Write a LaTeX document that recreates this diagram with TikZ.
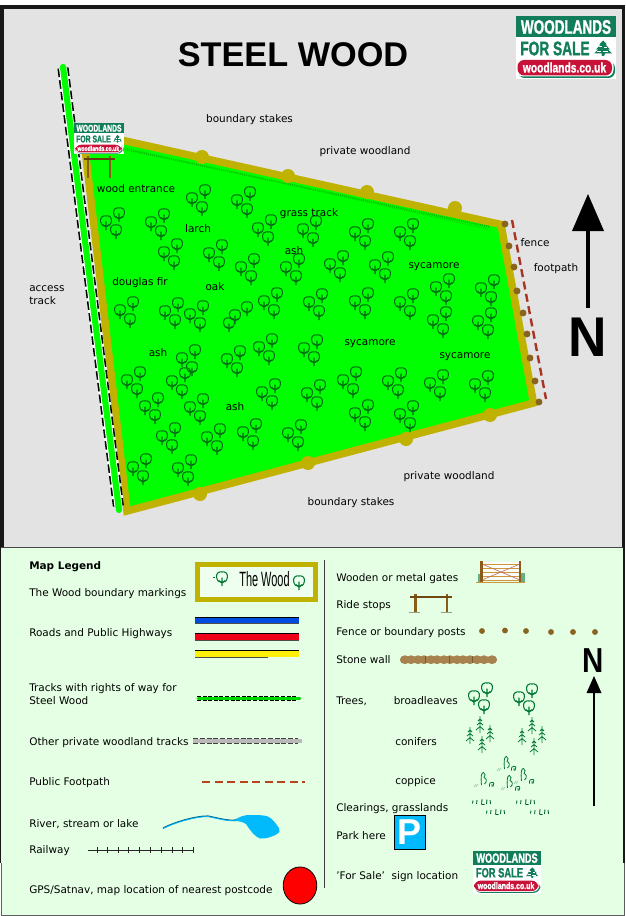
\documentclass[tikz,border=0pt]{standalone}
\usepackage{fontspec}
\usepackage{graphicx}
\setmainfont{DejaVu Sans}
\newfontfamily\arialb{Liberation Sans}
\newfontfamily\logofont[BoldFeatures={FakeBold=1.6}]{Liberation Sans}
\definecolor{gbg}{RGB}{227,227,227}
\definecolor{lbg}{RGB}{229,255,229}
\definecolor{frame}{RGB}{24,24,24}
\definecolor{gold}{RGB}{191,178,0}
\definecolor{wood}{RGB}{0,255,0}
\definecolor{postbrown}{RGB}{136,100,30}
\definecolor{pathred}{RGB}{168,52,36}
\definecolor{logogreen}{RGB}{18,125,90}
\definecolor{logored}{RGB}{200,18,56}
\definecolor{treemap}{RGB}{0,110,20}
\definecolor{treeleg}{RGB}{0,120,50}
\definecolor{timber}{RGB}{140,90,25}
\definecolor{stone}{RGB}{168,130,78}
\definecolor{waterblue}{RGB}{0,186,252}
\definecolor{plank}{RGB}{205,150,60}
\tikzset{
  lab/.style={inner sep=0pt,font=\fontsize{7.85}{9.6}\selectfont,text=black,yshift=-1.4pt},
  leg/.style={lab,anchor=west,align=left},
  logotext/.style={inner sep=0pt,font=\fontsize{14.7}{16}\selectfont\logofont\bfseries},
  north/.style={inner sep=0pt},
}
% broadleaf tree
\newcommand{\treeat}[3]{%
  \draw[#3,line width=.8pt,fill=none] (#1-5.4,#2-0.8) .. controls (#1-6.2,#2-5.2) and (#1-2.2,#2-6.8) .. (#1,#2-6)
     .. controls (#1+2.2,#2-6.8) and (#1+6.2,#2-5.2) .. (#1+5.4,#2-.8)
     .. controls (#1+5,#2+3.2) and (#1+2,#2+4.8) .. (#1,#2+4.2)
     .. controls (#1-2,#2+4.8) and (#1-5,#2+3.2) .. (#1-5.4,#2-.8);
  \draw[#3,line width=.85pt] (#1,#2-.5) -- (#1,#2+8) (#1-3.2,#2+2.6) -- (#1,#2+5) -- (#1+3.2,#2+2.6);
}
\newcommand{\trio}[3]{\treeat{#1}{#2}{#3}\treeat{#1+13}{#2-8}{#3}\treeat{#1+10}{#2+9}{#3}}
% conifer
\newcommand{\conif}[2]{%
  \draw[treeleg,line width=.6pt] (#1,#2-9) -- (#1,#2+8)
   (#1-2,#2-4) -- (#1,#2-6) -- (#1+2,#2-4)
   (#1-3,#2) -- (#1,#2-2.5) -- (#1+3,#2)
   (#1-4,#2+5) -- (#1,#2+1.5) -- (#1+4,#2+5);
}
% coppice stems
\newcommand{\coppb}[2]{%
  \draw[treeleg,line width=.6pt] (#1-2.5,#2+6) .. controls (#1-3.5,#2-2) and (#1-2.5,#2-7) .. (#1-.5,#2-6.5)
     .. controls (#1+1.5,#2-6) and (#1+1.5,#2-2.5) .. (#1,#2-1.5)
     .. controls (#1+3,#2-.5) and (#1+3,#2+3) .. (#1+.5,#2+5);
}
\newcommand{\copps}[2]{%
  \draw[treeleg,line width=.6pt] (#1-2.5,#2+2.5) .. controls (#1-3,#2-1) and (#1-1,#2-2.5) .. (#1,#2-1.5)
     .. controls (#1+2,#2-2.5) and (#1+2.5,#2+1) .. (#1+1,#2+2.5) (#1,#2+2.5) -- (#1,#2);
}
\newcommand{\paleg}[2]{\draw[treeleg!35,line width=.6pt] (#1-2,#2+2) -- (#1,#2-1) (#1,#2+2) -- (#1+2,#2-1);}
% grass tuft
\newcommand{\tuft}[2]{%
  \draw[treeleg!80!black,line width=.65pt] (#1,#2-1.5) -- (#1-.5,#2+1.5) (#1+4,#2-2) -- (#1+3.6,#2+2)
  (#1+9,#2-3) -- (#1+8.6,#2+2.5) (#1+9,#2+2.5) -- (#1+11.5,#2+2.5) (#1+14,#2-2.5) -- (#1+13.5,#2+2) (#1+17,#2-2) -- (#1+17.6,#2+2);
}
% logo
\newcommand{\woodlogo}[4]{%
 \begin{scope}[shift={(#2,#3)},scale=#4,transform shape,name prefix=#1-]
  \fill[white] (0,0) rectangle (100,62.5);
  \fill[logogreen] (0,0) rectangle (100,21);
  \fill[logogreen,rounded corners=5] (2,45) rectangle (99,61.5);
  \fill[white,rounded corners=5] (.5,42.5) rectangle (97.5,60);
  \fill[logored,rounded corners=5] (1.5,43.5) rectangle (96,59);
  \node[logotext,text=white] (top) at (50,10.5) {\scalebox{.69}[1]{WOODLANDS}};
  \node[logotext,text=logogreen,anchor=west] (sale) at (4,32) {\scalebox{.7}[1]{FOR SALE}};
  \node[inner sep=0pt,text=white,font=\fontsize{10.4}{12}\selectfont\logofont\bfseries] (url) at (48.5,51) {\scalebox{.74}[1]{woodlands.co.uk}};
  \fill[logogreen] (87,24) -- (91,28) -- (89.5,28) -- (94,33) -- (92,33) -- (96,37) -- (89,37) -- (88,39.5) -- (86,39.5) -- (85.5,37) -- (78,37) -- (82,33) -- (80,33) -- (84.5,28) -- (83,28) -- cycle;
  \draw[white,line width=.35pt] (83,29.5) -- (86,29.5) (88,31) -- (91,31) (81,34.5) -- (85,34.5) (87,35) -- (92,35);
 \end{scope}}
% ride stop
\newcommand{\ridestop}[4]{%
  \fill[timber] (#1-1.2,#3) rectangle (#1+1.4,#4);
  \fill[timber] (#2-1.2,#3) rectangle (#2+1.4,#4);
  \draw[timber!70!black,line width=1.2pt] (#1-4.5,#3+3) -- (#2+4.5,#3+3);
}
\begin{document}
\begin{tikzpicture}[x=.75pt,y=-.75pt]
\useasboundingbox (0,0) rectangle (625,916);
\fill[white] (0,0) rectangle (625,916);
% panels
\fill[frame] (0,5) rectangle (625,547.5);
\fill[gbg] (4,9) rectangle (621.5,547);
\fill[lbg] (1,548) rectangle (624.5,915);
\draw[frame!80,line width=.75pt] (0,547.5) -- (625,547.5);
\fill[frame] (0,547) rectangle (1.4,863);
\fill[frame] (623.4,547) rectangle (625,863);
\draw[frame!70,line width=.75pt] (1,863) -- (1,915.3) -- (624.5,915.3) -- (624.5,863);
% wood
\coordinate (wa) at (83,131.5);
\coordinate (wb) at (501,224.5);
\coordinate (wc) at (533.5,403);
\coordinate (wd) at (127,511);
\draw[gold,fill=wood,line width=5.6pt,miter limit=4] (wa) -- (wb) -- (wc) -- (wd) -- cycle;
\draw[wood!70!black!80!wood,line width=1.4pt,dash pattern=on .8pt off .8pt] (100,144) -- (490,227);
\draw[wood!70!black!50!wood,line width=.8pt,dash pattern=on .8pt off .8pt] (125,148) -- (490,229.5);
\foreach \px/\py in {202/157,288/176,367/192,455/208,200/494,308/463,406/439,490/415}
  \fill[gold] (\px,\py) circle[radius=5.25pt];
% trees
\foreach \px/\py in {106/222,151/223,192/199,237/201,164/253,209/254,241/268,258/229,303/230,286/268,
 120/311,165/312,190/315,264/302,309/303,259/348,304/349,182/359,172/382,227/360,127/381,145/407,190/408,
 262/393,307/394,162/437,207/438,243/433,288/434,133/468,178/469,355/233,400/233,330/265,375/266,436/288,481/289,
 355/302,400/303,433/321,478/322,343/381,388/382,430/384,475/385,355/414,400/415}
  {\trio{\px}{\py}{treemap}}
\treeat{229}{324}{treemap}\treeat{235}{316}{treemap}\treeat{247}{308}{treemap}
% access track
\coordinate (ta) at (63,68);
\coordinate (tb) at (118.4,506);
\draw[white,line width=8.4pt] (ta) -- (tb);
\draw[black,line width=8.4pt,dash pattern=on 6.4pt off 2.4pt] (ta) -- (tb);
\draw[white,line width=6pt] (ta) -- (tb);
\draw[wood,line width=4.6pt,line cap=round] (63,67) -- (119,510);
% footpath and fence
\foreach \px/\py in {505/224,509/246,514/267,517/291,523/313,527/334,530/358,535/381,539/402}
  \fill[postbrown] (\px,\py) circle[radius=2.6pt];
\draw[pathred,line width=1.8pt,dash pattern=on 6pt off 3.4pt] (512,220) -- (546,399);
% ride stop and sign
\ridestop{88}{110}{156}{178}
\woodlogo{l1}{74}{123}{.5}
\woodlogo{l2}{516}{16.5}{1}
% north
\draw[black,line width=3.4pt] (588,308) -- (588,228);
\fill[black] (588,194) -- (604,231) -- (572,231) -- cycle;
\node[north,font=\fontsize{42}{44}\selectfont\arialb\bfseries] (bign) at (588,337) {\scalebox{.95}[1]{N}};
% title
\node[inner sep=0pt,font=\fontsize{25.7}{28}\selectfont\arialb\bfseries] (title) at (293,55) {STEEL WOOD};
% map labels
\node[lab] (m1) at (249.5,118) {boundary stakes};
\node[lab] (m2) at (365,150) {private woodland};
\node[lab] (m3) at (136,186.5) {wood entrance};
\node[lab] (m4) at (198,227) {larch};
\node[lab] (m5) at (309,212) {grass track};
\node[lab] (m6) at (294,249) {ash};
\node[lab] (m7) at (140,281) {douglas fir};
\node[lab] (m8) at (215,285) {oak};
\node[lab] (m9) at (434,265) {sycamore};
\node[lab] (m10) at (158,351) {ash};
\node[lab] (m11) at (370,342) {sycamore};
\node[lab] (m12) at (465,355) {sycamore};
\node[lab] (m13) at (235,405) {ash};
\node[leg] (m14) at (29,293) {access\\track};
\node[lab] (m15) at (535,241) {fence};
\node[lab] (m16) at (556,267) {footpath};
\node[lab] (m17) at (449,475) {private woodland};
\node[lab] (m18) at (351,501) {boundary stakes};
% legend left
\draw[frame!85,line width=.75pt] (324.5,560) -- (324.5,888);
\node[leg,font=\fontsize{7.85}{9.6}\selectfont\bfseries] (k0) at (29,564.5) {Map Legend};
\node[leg] (k1) at (29,592) {The Wood boundary markings};
\node[leg] (k2) at (29,632) {Roads and Public Highways};
\node[leg] (k3) at (29,692.5) {Tracks with rights of way for\\Steel Wood};
\node[leg] (k4) at (29,740.5) {Other private woodland tracks};
\node[leg] (k5) at (29,781) {Public Footpath};
\node[leg] (k6) at (29,822) {River, stream or lake};
\node[leg] (k7) at (29,849) {Railway};
\node[leg] (k8) at (29,889) {GPS/Satnav, map location of nearest postcode};
% the wood box
\draw[gold,line width=3.6pt,fill=lbg!60!white] (197.5,564.5) rectangle (315.5,599.5);
\treeat{222}{578}{treeleg}\treeat{299}{582}{treeleg}
\draw[treeleg,line width=.5pt] (213,577) -- (215,577);
\node[inner sep=0pt,font=\fontsize{15.5}{17}\selectfont\arialb] (thewood) at (264.5,579.5) {\scalebox{.53}[1]{The Wood}};
% roads
\foreach \ya/\col in {617/{0,76,225},633.5/{240,0,24},650.5/{255,240,10}}{
  \definecolor{rc}{RGB}{\col}
  \fill[rc] (195,\ya) rectangle (299,\ya+6.5);
  \draw[black,line width=.6pt] (195,\ya) -- (299,\ya);
}
\draw[black!70,line width=.4pt] (195,623.7) -- (299,623.7) (195,640) -- (299,640) (195,657) -- (268,657);
% green track
\draw[black,line width=1pt,dash pattern=on 3pt off 1.2pt] (197,696.6) -- (296,696.6);
\draw[black,line width=1pt,dash pattern=on 3pt off 1.2pt] (197,700.6) -- (296,700.6);
\draw[wood!85!black,line width=2pt,line cap=round] (198,698.6) -- (300,698.6);
% other tracks
\draw[gray!55,line width=3.6pt] (193,741) -- (302,741);
\draw[black!75,line width=.7pt,dash pattern=on 3.7pt off 1.4pt] (193,738.5) -- (298,738.5);
\draw[black!75,line width=.7pt,dash pattern=on 3.7pt off 1.4pt] (193,743.3) -- (298,743.3);
% footpath
\draw[pathred!80!orange,line width=1.8pt,dash pattern=on 6pt off 3.4pt] (202,782) -- (305,782);
% river
\fill[waterblue] (233,821) .. controls (240,816) and (245,815) .. (250,815) .. controls (257,815) and (264,815) .. (268,816.5)
  .. controls (273,819) and (276,824) .. (279,828) .. controls (280,831) and (280,832) .. (277,834)
  .. controls (272,837) and (265,839) .. (260,838.5) .. controls (255,837) and (250,830) .. (246,824)
  .. controls (242,821) and (236,821) .. cycle;
\draw[waterblue!55!black,line width=.9pt] (163,828) .. controls (175,822) and (195,816) .. (208,816) .. controls (218,818) and (228,821) .. (236,820);
\draw[waterblue,line width=.6pt] (163,828.6) .. controls (175,822.6) and (195,816.6) .. (208,816.6) .. controls (218,818.6) and (228,821.6) .. (236,820.6);
% railway
\draw[black!85,line width=.6pt] (88,850) -- (193,850);
\foreach \tx in {97,107,118,128,139,150,161,172,182,193}
  \draw[black!85,line width=.6pt] (\tx,847) -- (\tx,852.5);
% GPS dot
\draw[black,fill=red,line width=.6pt] (300,885.5) ellipse[x radius=12.6pt,y radius=13.9pt];
% legend right
\node[leg] (r1) at (336,577) {Wooden or metal gates};
\node[leg] (r2) at (336,604) {Ride stops};
\node[leg] (r3) at (336,631) {Fence or boundary posts};
\node[leg] (r4) at (336,658) {Stone wall};
\node[leg] (r5) at (336,699) {Trees,};
\node[leg] (r6) at (393.5,699) {broadleaves};
\node[leg] (r7) at (395,739.5) {conifers};
\node[leg] (r8) at (395,780) {coppice};
\node[leg] (r9) at (336,807) {Clearings, grasslands};
\node[leg] (r10) at (336,834) {Park here};
\node[leg] (r11) at (336,875) {'For Sale'\ \ sign location};
% gate
\fill[treeleg!60] (478,574) rectangle (482,582);
\fill[treeleg!60] (520,573) rectangle (525,582);
\fill[white!80!lbg] (481,562) rectangle (520,581);
\foreach \gy in {564,568,572,576,580}
  \draw[plank,line width=.75pt] (482,\gy) -- (520,\gy);
\draw[pathred!70,line width=.5pt] (482,564) -- (520,580) (482,580) -- (520,564);
\fill[timber] (479.5,561) rectangle (482.5,582);
\fill[timber] (518.5,561) rectangle (521,582);
\draw[plank,line width=.6pt] (476,582) -- (525,582);
% ride stop legend
\fill[timber] (414,594) rectangle (416.5,612);
\fill[timber] (445.5,594) rectangle (448,612);
\draw[timber!80!black,line width=1.1pt] (410,597) -- (452,597);
\draw[treeleg!40!timber!60,line width=.5pt] (409,612) -- (420,612) (441,612) -- (452,612);
% fence posts
\foreach \px/\py in {482/631,505/630.5,526/631,551/632,573/632,595/632}
  \fill[postbrown] (\px,\py) circle[radius=2.2pt];
% stone wall
\foreach \sx in {405,411,418,424,431,437,444,450,457,463,470,477,484,492}
  \fill[stone] (\sx,659.7) ellipse[x radius=3.9pt,y radius=3.3pt];
\draw[stone!70!black,line width=.4pt] (425,656) -- (425,663) (449,656) -- (449,663) (472,656) -- (472,663);
% legend trees
\trio{474}{697}{treeleg}\trio{519}{698}{treeleg}
% conifers
\conif{470}{736}\conif{480}{725}\conif{490}{734}\conif{482}{745}
\conif{522}{737}\conif{532}{726}\conif{542}{735}\conif{534}{747}
% coppice
\coppb{484}{779}\copps{492}{784}\coppb{507}{763}\copps{514}{768}\coppb{524}{775}\copps{532}{781}\coppb{510}{782}\copps{518}{788}
\paleg{476}{785}\paleg{499}{769}\paleg{503}{788}\paleg{516}{782}
% grass
\tuft{473}{802}\tuft{487}{812}\tuft{517}{802}\tuft{531}{812}
% parking
\draw[black,fill=waterblue,line width=1pt] (394.5,815.5) rectangle (425.5,849.5);
\node[inner sep=0pt,text=white,font=\fontsize{27}{29}\selectfont\arialb\bfseries] (pk) at (409.5,832.5) {P};
\woodlogo{l3}{473}{851}{.68}
% north legend
\draw[black,line width=1.6pt] (594,806) -- (594,690);
\fill[black] (594,676) -- (601.5,693) -- (586.5,693) -- cycle;
\node[north,font=\fontsize{26}{28}\selectfont\arialb\bfseries] (smn) at (593,661) {\scalebox{.85}[1]{N}};
\end{tikzpicture}
\end{document}
